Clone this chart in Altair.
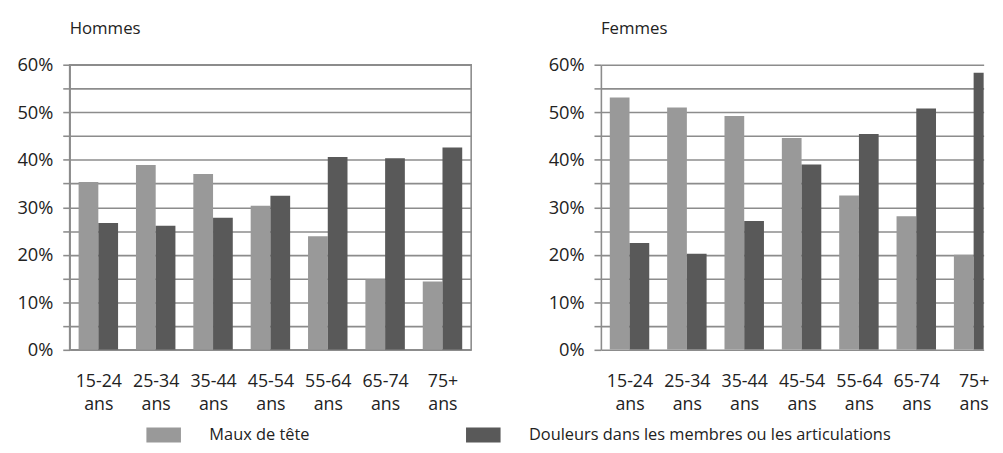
import altair as alt
import pandas as pd

ages = ["15-24 ans", "25-34 ans", "35-44 ans", "45-54 ans", "55-64 ans", "65-74 ans", "75+ ans"]
series = ["Maux de tête", "Douleurs dans les membres ou les articulations"]
panels = ["Hommes", "Femmes"]

hommes_maux = [35.3, 38.9, 37.0, 30.3, 23.9, 14.8, 14.4]
hommes_douleurs = [26.7, 26.1, 27.8, 32.4, 40.6, 40.3, 42.6]
femmes_maux = [53.1, 51.0, 49.2, 44.6, 32.5, 28.1, 20.0]
femmes_douleurs = [22.5, 20.2, 27.1, 39.0, 45.4, 50.8, 58.3]

colors = ["#999999", "#595959"]
y_ticks = list(range(0, 65, 5))

rows = []
for p, m, d in [(panels[0], hommes_maux, hommes_douleurs), (panels[1], femmes_maux, femmes_douleurs)]:
    for a, v1, v2 in zip(ages, m, d):
        rows.append({"panel": p, "age": a, "serie": series[0], "value": v1})
        rows.append({"panel": p, "age": a, "serie": series[1], "value": v2})
df = pd.DataFrame(rows)

FONT = "Open Sans"
GRID = "#8c8c8c"
TXT = "#222222"


def make_panel(name, view_w, border, pad, align):
    view = (
        alt.ViewBackground(stroke=GRID, strokeWidth=1.6, strokeOpacity=1)
        if border
        else alt.ViewBackground(strokeOpacity=0)
    )
    return (
        alt.Chart(df)
        .transform_filter(alt.datum.panel == name)
        .mark_bar(clip=True)
        .encode(
            x=alt.X(
                "age:N",
                sort=ages,
                scale=alt.Scale(type="point", padding=pad, align=align),
                axis=alt.Axis(
                    title=None,
                    labelAngle=0,
                    labelExpr="split(datum.value, ' ')",
                    ticks=False,
                    domain=False,
                    grid=False,
                    labelPadding=23,
                    labelFontSize=18,
                    labelLineHeight=23,
                    labelColor=TXT,
                    labelFont=FONT,
                    labelBound=False,
                    labelOverlap=False,
                ),
            ),
            xOffset=alt.XOffset(
                "serie:N", sort=series, scale=alt.Scale(range=[-20, 20], paddingInner=0, paddingOuter=0)
            ),
            y=alt.Y(
                "value:Q",
                scale=alt.Scale(domain=[0, 60], nice=False),
                axis=alt.Axis(
                    title=None,
                    values=y_ticks,
                    labelExpr="datum.value % 10 == 0 ? datum.value + '%' : ''",
                    tickSize=7,
                    tickColor=GRID,
                    tickWidth=1.6,
                    grid=True,
                    gridColor=GRID,
                    gridWidth=1.6,
                    domain=True,
                    domainColor=GRID,
                    domainWidth=1.6,
                    labelPadding=10,
                    labelFontSize=18.5,
                    labelColor=TXT,
                    labelFont=FONT,
                ),
            ),
            color=alt.Color(
                "serie:N",
                sort=series,
                scale=alt.Scale(domain=series, range=colors),
                legend=alt.Legend(
                    title=None,
                    orient="none",
                    direction="horizontal",
                    legendX=87,
                    legendY=367,
                    symbolType="M-4,-1.75H4V1.75H-4Z",
                    symbolSize=76.6,
                    symbolStrokeWidth=0,
                    symbolOpacity=1,
                    labelFontSize=16.6,
                    labelFont=FONT,
                    labelColor=TXT,
                    labelOffset=38,
                    labelLimit=600,
                    columnPadding=157,
                ),
            ),
        )
        .properties(
            width=view_w,
            height=289,
            view=view,
            title=alt.TitleParams(
                name,
                anchor="start",
                frame="group",
                fontSize=17,
                font=FONT,
                fontWeight="normal",
                color=TXT,
                offset=18,
            ),
        )
    )


chart = (
    alt.hconcat(
        make_panel(panels[0], 407, True, 0.5, 0.5),
        make_panel(panels[1], 388, False, 0.337, 0.7406),
        spacing=76.5,
    )
    .properties(padding={"left": 7.5, "top": 8.5, "right": 6, "bottom": 0})
    .configure_view(strokeOpacity=0)
    .configure(font=FONT)
)

chart.save("out.html", embed_options={"renderer": "svg", "actions": False})
